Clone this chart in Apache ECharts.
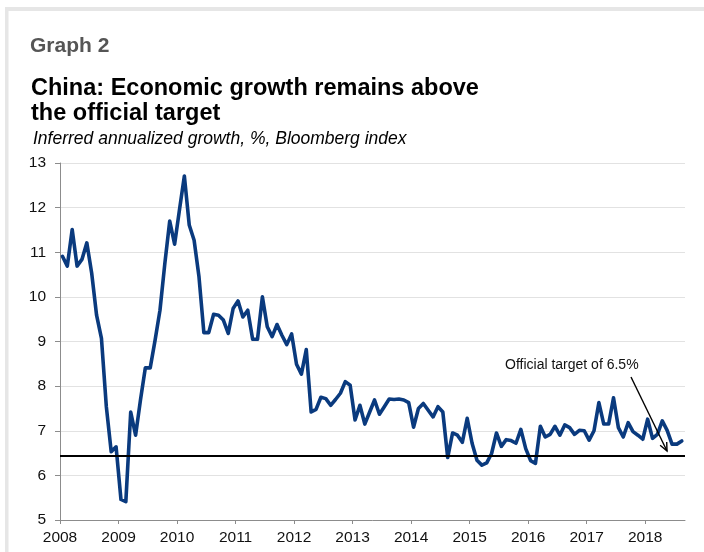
<!DOCTYPE html>
<html>
<head>
<meta charset="utf-8">
<title>China: Economic growth remains above the official target</title>
<script src="https://cdn.jsdelivr.net/npm/echarts@6/dist/echarts.min.js"></script>
<style>
  html, body { margin: 0; padding: 0; background: #ffffff; }
  #chart { width: 704px; height: 552px; }
</style>
</head>
<body>
<div id="chart"></div>
<script>
// Monthly series, January 2008 to August 2018
const startYear = 2008;
const growth = [
  10.91, 10.69, 11.51, 10.69, 10.84, 11.21, 10.53, 9.59, 9.07, 7.54, 6.53, 6.64,
  5.46, 5.41, 7.42, 6.90, 7.69, 8.41, 8.41, 9.03, 9.70, 10.75, 11.70, 11.18,
  11.95, 12.71, 11.61, 11.27, 10.45, 9.20, 9.20, 9.61, 9.59, 9.48, 9.18, 9.74,
  9.91, 9.55, 9.70, 9.05, 9.05, 10.00, 9.33, 9.11, 9.38, 9.14, 8.93, 9.17,
  8.49, 8.27, 8.82, 7.42, 7.48, 7.75, 7.72, 7.57, 7.70, 7.84, 8.10, 8.02,
  7.24, 7.57, 7.15, 7.42, 7.69, 7.37, 7.54, 7.71, 7.70, 7.71, 7.69, 7.63,
  7.08, 7.50, 7.61, 7.46, 7.31, 7.54, 7.42, 6.40, 6.95, 6.90, 6.74, 7.28,
  6.72, 6.34, 6.23, 6.28, 6.49, 6.95, 6.65, 6.80, 6.78, 6.72, 7.03, 6.60,
  6.33, 6.27, 7.10, 6.86, 6.92, 7.10, 6.90, 7.13, 7.07, 6.92, 7.01, 7.00,
  6.79, 7.00, 7.63, 7.15, 7.15, 7.74, 7.07, 6.86, 7.18, 6.98, 6.90, 6.81,
  7.26, 6.83, 6.92, 7.22, 7.01, 6.70, 6.70, 6.77
];
const yearTicks = [2008, 2009, 2010, 2011, 2012, 2013, 2014, 2015, 2016, 2017, 2018];
const officialTarget = 6.45;

const FONT = "'Liberation Sans', Arial, Helvetica, sans-serif";

// each month plotted at its midpoint on a decimal-year scale
const seriesData = growth.map((v, i) => [startYear + (i + 0.5) / 12, v]);

// annotation arrow (pixel layout)
const arrowFrom = [631, 377];
const arrowTo = [667, 451];
function arrowHead(from, to, len, spread) {
  const ang = Math.atan2(to[1] - from[1], to[0] - from[0]);
  const a1 = ang + Math.PI - spread, a2 = ang + Math.PI + spread;
  return [
    [to[0] + len * Math.cos(a1), to[1] + len * Math.sin(a1)],
    to,
    [to[0] + len * Math.cos(a2), to[1] + len * Math.sin(a2)]
  ];
}

const chart = echarts.init(document.getElementById('chart'), null, { renderer: 'canvas' });

chart.setOption({
  backgroundColor: '#ffffff',
  animation: false,
  textStyle: { fontFamily: FONT },
  grid: { left: 60, right: 19, top: 163, bottom: 32, containLabel: false },
  xAxis: {
    type: 'value',
    min: 2008,
    max: 2018.68,
    interval: 1,
    axisLine: { show: true, lineStyle: { color: '#8c8c8c', width: 1 } },
    axisTick: { show: true, inside: false, length: 4, customValues: yearTicks, lineStyle: { color: '#8c8c8c' } },
    axisLabel: {
      customValues: yearTicks,
      color: '#111111', fontSize: 15.5, fontFamily: FONT, margin: 10,
      formatter: v => String(Math.round(v))
    },
    splitLine: { show: false }
  },
  yAxis: {
    type: 'value',
    min: 5,
    max: 13,
    interval: 1,
    axisLine: { show: true, lineStyle: { color: '#8c8c8c', width: 1 } },
    axisTick: { show: true, inside: false, length: 5, lineStyle: { color: '#8c8c8c' } },
    axisLabel: { color: '#111111', fontSize: 15.5, fontFamily: FONT, margin: 14 },
    splitLine: { show: true, lineStyle: { color: '#e2e2e2', width: 1.2 } }
  },
  series: [{
    type: 'line',
    data: seriesData,
    showSymbol: false,
    symbol: 'none',
    lineStyle: { color: '#0a3a7e', width: 3.6, join: 'round', cap: 'round' },
    z: 3,
    markLine: {
      silent: true,
      symbol: ['none', 'none'],
      label: { show: false },
      lineStyle: { color: '#000000', width: 2, type: 'solid' },
      data: [{ yAxis: officialTarget }],
      z: 4
    }
  }],
  graphic: [
    // card frame
    { type: 'rect', shape: { x: 5, y: 7, width: 699, height: 4 }, style: { fill: '#e6e6e6' }, silent: true },
    { type: 'rect', shape: { x: 5, y: 7, width: 3.5, height: 545 }, style: { fill: '#e6e6e6' }, silent: true },
    // headings
    { type: 'text', left: 30, top: 36, style: { text: 'Graph 2', fill: '#555555', font: 'bold 21px ' + FONT } },
    { type: 'text', left: 31, top: 76, style: { text: 'China: Economic growth remains above\nthe official target', fill: '#000000', font: 'bold 23.5px ' + FONT, lineHeight: 25 } },
    { type: 'text', left: 33, top: 130, style: { text: 'Inferred annualized growth, %, Bloomberg index', fill: '#000000', font: 'italic 17.5px ' + FONT } },
    // annotation
    { type: 'text', left: 505, top: 358, style: { text: 'Official target of 6.5%', fill: '#111111', font: '14px ' + FONT }, z: 10 },
    { type: 'line', shape: { x1: arrowFrom[0], y1: arrowFrom[1], x2: arrowTo[0], y2: arrowTo[1] }, style: { stroke: '#000000', lineWidth: 1.4 }, z: 10 },
    { type: 'polyline', shape: { points: arrowHead(arrowFrom, arrowTo, 9, 0.42) }, style: { stroke: '#000000', lineWidth: 1.4, fill: null }, z: 10 }
  ]
});
</script>
</body>
</html>
